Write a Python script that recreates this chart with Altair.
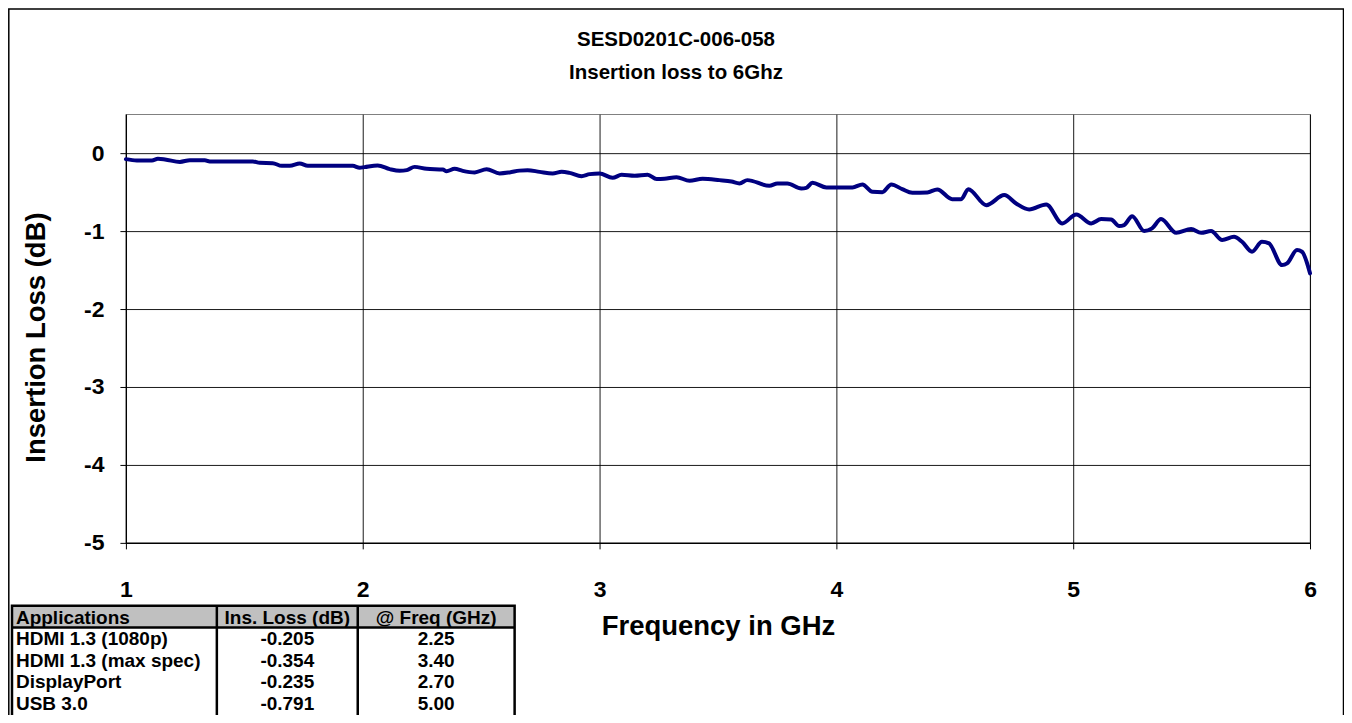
import altair as alt
import pandas as pd

# ---------------- data ----------------
freq = [1.000, 1.046, 1.110, 1.135, 1.165, 1.228, 1.270, 1.333, 1.354, 1.536,
        1.565, 1.620, 1.658, 1.692, 1.734, 1.768, 1.819, 1.958, 1.987, 2.008,
        2.063, 2.114, 2.156, 2.186, 2.219, 2.270, 2.338, 2.354, 2.388, 2.422,
        2.473, 2.523, 2.578, 2.620, 2.662, 2.696, 2.747, 2.802, 2.840, 2.873,
        2.924, 2.958, 3.000, 3.055, 3.093, 3.148, 3.203, 3.241, 3.274, 3.325,
        3.380, 3.435, 3.506, 3.557, 3.591, 3.624, 3.717, 3.751, 3.793, 3.852,
        3.873, 3.899, 3.958, 4.068, 4.110, 4.152, 4.194, 4.232, 4.278, 4.321,
        4.384, 4.426, 4.489, 4.527, 4.557, 4.633, 4.709, 4.759, 4.814, 4.886,
        4.954, 5.013, 5.076, 5.118, 5.160, 5.194, 5.215, 5.249, 5.300, 5.333,
        5.371, 5.435, 5.498, 5.540, 5.582, 5.629, 5.679, 5.713, 5.755, 5.797,
        5.827, 5.882, 5.903, 5.945, 5.966, 6.000]

loss = [-0.077, -0.094, -0.094, -0.073, -0.081, -0.112, -0.090, -0.090, -0.106, -0.106,
        -0.124, -0.128, -0.163, -0.163, -0.132, -0.163, -0.163, -0.163, -0.188, -0.179,
        -0.158, -0.205, -0.227, -0.218, -0.176, -0.201, -0.209, -0.231, -0.201, -0.227,
        -0.247, -0.205, -0.260, -0.247, -0.224, -0.218, -0.240, -0.260, -0.240, -0.253,
        -0.295, -0.269, -0.260, -0.317, -0.278, -0.291, -0.278, -0.333, -0.329, -0.308,
        -0.355, -0.329, -0.346, -0.363, -0.388, -0.346, -0.419, -0.388, -0.388, -0.453,
        -0.445, -0.381, -0.440, -0.440, -0.401, -0.496, -0.500, -0.401, -0.462, -0.509,
        -0.504, -0.465, -0.590, -0.590, -0.462, -0.667, -0.538, -0.645, -0.722, -0.658,
        -0.901, -0.786, -0.901, -0.846, -0.850, -0.936, -0.923, -0.808, -1.000, -0.965,
        -0.846, -1.022, -0.974, -1.022, -1.000, -1.115, -1.073, -1.137, -1.265, -1.137,
        -1.158, -1.436, -1.414, -1.244, -1.265, -1.542]

x_ticks = [1, 2, 3, 4, 5, 6]
y_ticks = [-5, -4, -3, -2, -1, 0]

title_lines = ["SESD0201C-006-058", "Insertion loss to 6Ghz"]

table_headers = ["Applications", "Ins. Loss (dB)", "@ Freq (GHz)"]
apps = ["HDMI 1.3 (1080p)", "HDMI 1.3 (max spec)", "DisplayPort", "USB 3.0"]
ins_loss = ["-0.205", "-0.354", "-0.235", "-0.791"]
at_freq = ["2.25", "3.40", "2.70", "5.00"]

# ---------------- layout ----------------
FONT = "Liberation Sans"
W, H = 1185, 429
PAD = {"left": 118, "top": 106, "right": 34, "bottom": 172}

df = pd.DataFrame({"f": freq, "l": loss})
one = pd.DataFrame({"a": [0]})

axis_common = dict(
    grid=True, gridColor="#000000", gridWidth=1, gridOpacity=0.9,
    domainColor="#000000", domainWidth=1.2,
    tickColor="#000000", tickSize=6, tickWidth=1,
    labelFont=FONT, labelFontSize=23, labelFontWeight="bold", labelColor="#000000",
    titleFont=FONT, titleFontSize=27.5, titleFontWeight="bold", titleColor="#000000",
)

line = alt.Chart(df).mark_line(color="#000080", strokeWidth=4, interpolate="monotone",
                               strokeJoin="round", strokeCap="round").encode(
    x=alt.X("f:Q", scale=alt.Scale(domain=[1, 6], nice=False, zero=False),
            axis=alt.Axis(values=x_ticks, title="Frequency in GHz", labelFlush=False,
                          labelPadding=30, titleY=84, titleBaseline="middle",
                          **axis_common)),
    y=alt.Y("l:Q", scale=alt.Scale(domain=[-5, 0.5], nice=False, zero=False),
            axis=alt.Axis(values=y_ticks, title="Insertion Loss (dB)",
                          labelExpr="toString(datum.value)", labelPadding=16,
                          titleX=-89, titleY=223, titleBaseline="middle", titleAlign="center",
                          **axis_common)),
)

# outer chart frame
frame = alt.Chart(one).mark_rect(fillOpacity=0, stroke="#000000", strokeWidth=1.5).encode(
    x=alt.value(-117.2), x2=alt.value(1218.5), y=alt.value(-105.2), y2=alt.value(900)
)

# chart titles
title_layers = []
for i, t in enumerate(title_lines):
    title_layers.append(
        alt.Chart(one).mark_text(font=FONT, fontSize=20.5, fontWeight="bold", color="#000000",
                                 align="center", baseline="middle").encode(
            x=alt.value(550.5), y=alt.value(-74 + 33 * i), text=alt.value(t))
    )

# table
col_edges = [-114, 91, 232, 389]
row_top = 492
row_h = 21.6
n_rows = len(apps) + 1
tbl_bottom = row_top + row_h * n_rows

table_layers = []
table_layers.append(
    alt.Chart(one).mark_rect(fill="#c0c0c0").encode(
        x=alt.value(col_edges[0]), x2=alt.value(col_edges[-1]),
        y=alt.value(row_top), y2=alt.value(row_top + row_h))
)
table_layers.append(
    alt.Chart(one).mark_rect(fillOpacity=0, stroke="#000000", strokeWidth=2.5).encode(
        x=alt.value(col_edges[0]), x2=alt.value(col_edges[-1]),
        y=alt.value(row_top), y2=alt.value(tbl_bottom + 20))
)
table_layers.append(
    alt.Chart(one).mark_rule(color="#000000", strokeWidth=2.5).encode(
        x=alt.value(col_edges[0]), x2=alt.value(col_edges[-1]),
        y=alt.value(row_top + row_h))
)
for ce in col_edges[1:-1]:
    table_layers.append(
        alt.Chart(one).mark_rule(color="#000000", strokeWidth=2.5).encode(
            x=alt.value(ce), y=alt.value(row_top), y2=alt.value(tbl_bottom + 20))
    )

columns = [table_headers] + [list(r) for r in zip(apps, ins_loss, at_freq)]
for r, row in enumerate(columns):
    yc = row_top + row_h * r + row_h / 2 + 1
    for c, txt in enumerate(row):
        if c == 0:
            xpos, al = col_edges[0] + 4, "left"
        else:
            xpos, al = (col_edges[c] + col_edges[c + 1]) / 2, "center"
        table_layers.append(
            alt.Chart(one).mark_text(font=FONT, fontSize=19, fontWeight="bold",
                                     color="#000000", align=al, baseline="middle").encode(
                x=alt.value(xpos), y=alt.value(yc), text=alt.value(txt))
        )

chart = alt.layer(line, frame, *title_layers, *table_layers).properties(
    width=W, height=H,
    autosize=alt.AutoSizeParams(type="none"),
    padding=PAD,
    background="#ffffff",
).configure_view(stroke="#808080", strokeWidth=1.2)

chart.save("out.html", embed_options={"renderer": "svg", "actions": False})
